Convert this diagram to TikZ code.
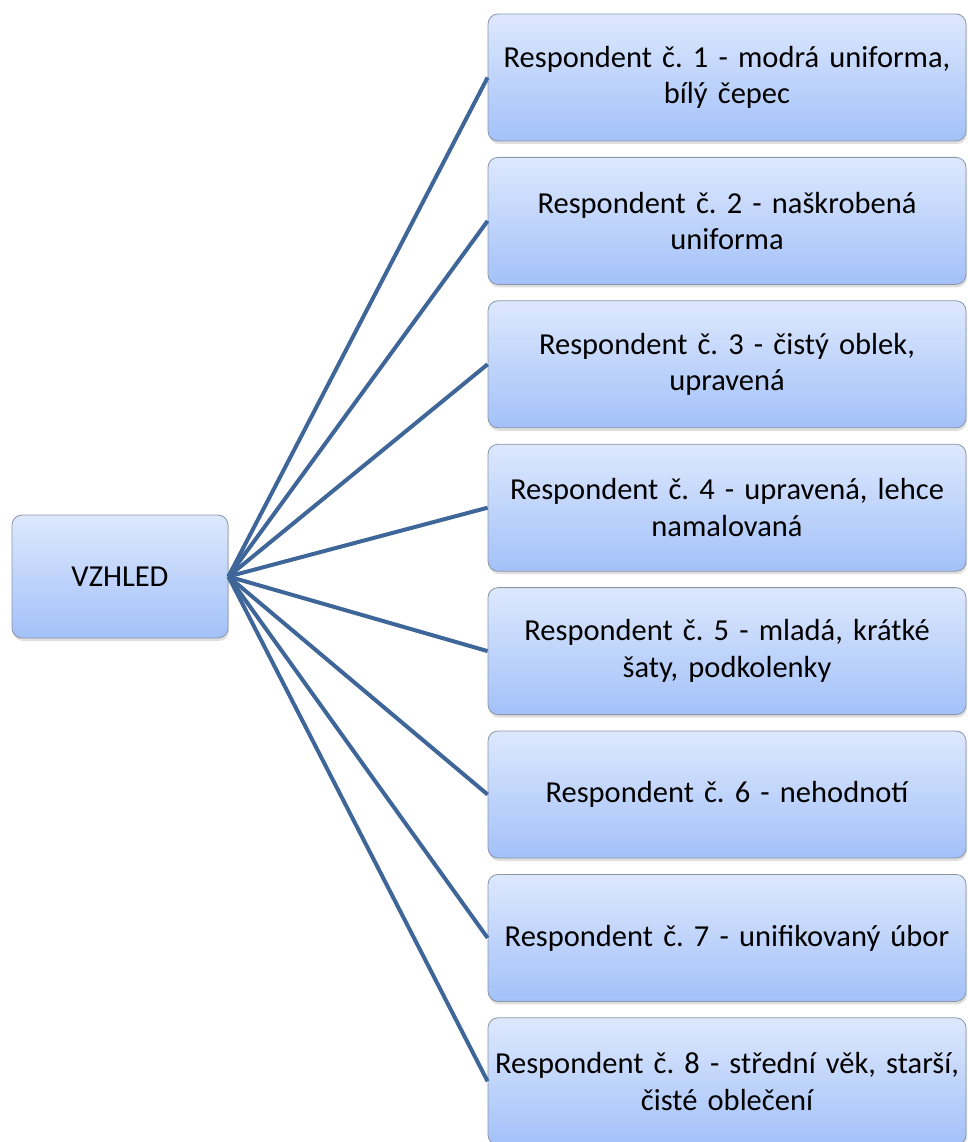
\documentclass[tikz,border=0pt]{standalone}
\usepackage{fontspec}
\setmainfont{Carlito}
\usetikzlibrary{shadows}
\definecolor{linkblue}{HTML}{3F6698}
\definecolor{boxtop}{HTML}{DDE8FD}
\definecolor{boxbottom}{HTML}{A3C1F9}
\definecolor{boxedge}{HTML}{8A96A6}
\tikzset{
  itembox/.style={draw=boxedge, line width=0.8pt, rounded corners=10pt,
    top color=boxtop, bottom color=boxbottom,
    drop shadow={shadow xshift=1pt, shadow yshift=-3pt, opacity=0.25},
    align=center, inner sep=0pt,
    font=\fontsize{30.5}{36.5}\selectfont\frenchspacing},
  rightbox/.style={itembox, minimum width=478pt, minimum height=127pt, text width=474pt},
  rootbox/.style={itembox, minimum width=216pt, minimum height=123pt},
  link/.style={draw=linkblue, line width=4pt}
}
\begin{document}
\begin{tikzpicture}[x=1pt,y=-1pt]
\useasboundingbox (0,0) rectangle (968,1142);
\node[rootbox] (root) at (120,576.5) {VZHLED};
\node[rightbox] (r1) at (727,77.5) {Respondent č. 1 - modrá uniforma,\\bílý čepec};
\node[rightbox] (r2) at (727,220.9) {Respondent č. 2 - naškrobená\\uniforma};
\node[rightbox] (r3) at (727,364.3) {Respondent č. 3 - čistý oblek,\\upravená};
\node[rightbox] (r4) at (727,507.7) {Respondent č. 4 - upravená, lehce\\namalovaná};
\node[rightbox] (r5) at (727,651.1) {Respondent č. 5 - mladá, krátké\\šaty, podkolenky};
\node[rightbox] (r6) at (727,794.5) {Respondent č. 6 - nehodnotí};
\node[rightbox] (r7) at (727,937.9) {Respondent č. 7 - unifikovaný úbor};
\node[rightbox] (r8) at (727,1081.3) {Respondent č. 8 - střední věk, starší,\\čisté oblečení};
\foreach \i in {1,...,8}
  \draw[link] (root.east) -- (r\i.west);
\end{tikzpicture}
\end{document}
